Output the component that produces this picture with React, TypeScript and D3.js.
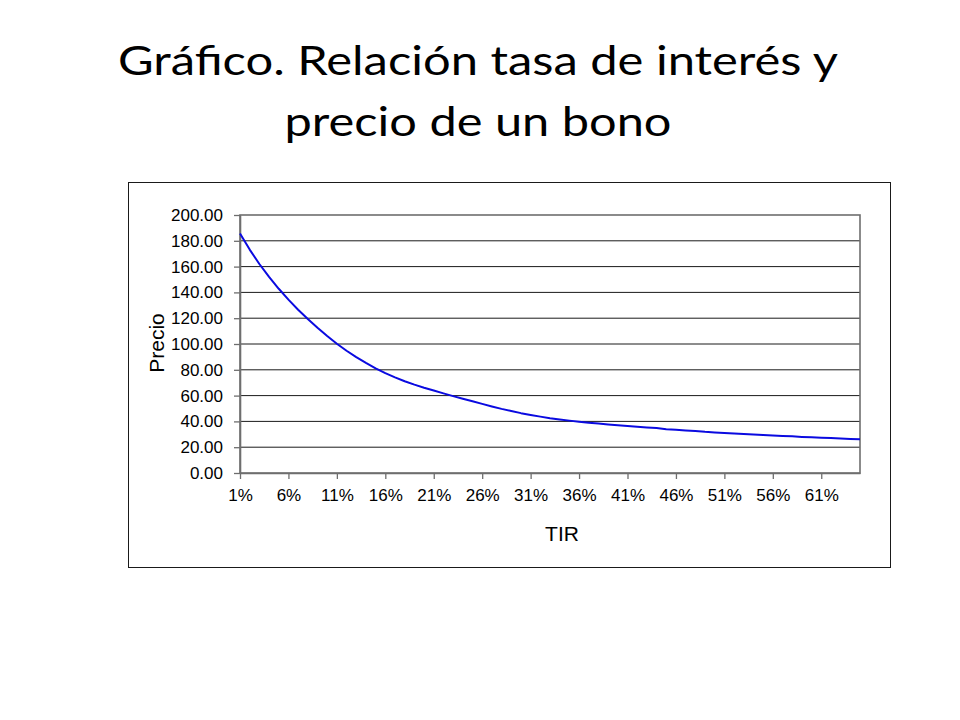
import React, { useRef, useEffect } from 'react';
import * as d3 from 'd3';

// TIR (%) de cada punto de la curva
const tasas = [
  1, 2, 3, 4, 5, 6, 7, 8, 9, 10, 11, 12, 13, 14, 15, 16, 17, 18, 19, 20,
  21, 22, 23, 24, 25, 26, 27, 28, 29, 30, 31, 32, 33, 34, 35, 36, 37, 38, 39, 40,
  41, 42, 43, 44, 45, 46, 47, 48, 49, 50, 51, 52, 53, 54, 55, 56, 57, 58, 59, 60,
  61, 62, 63, 64, 65,
];

// Precio del bono
const precios = [
  185.6, 173.2, 162.0, 152.0, 142.8, 134.4, 126.6, 119.4, 112.6, 106.2,
  100.2, 94.8, 89.8, 85.3, 81.1, 77.4, 74.1, 71.1, 68.5, 66.1,
  63.9, 61.7, 59.6, 57.6, 55.6, 53.6, 51.6, 49.7, 48.0, 46.4,
  45.0, 43.7, 42.5, 41.5, 40.6, 39.8, 39.0, 38.3, 37.6, 37.0,
  36.4, 35.8, 35.3, 34.8, 34.0, 33.5, 33.0, 32.6, 31.9, 31.4,
  31.0, 30.6, 30.2, 29.8, 29.4, 29.0, 28.7, 28.4, 28.0, 27.7,
  27.4, 27.1, 26.7, 26.4, 26.1,
];

const ticksPrecio = [0, 20, 40, 60, 80, 100, 120, 140, 160, 180, 200];
const tasasEtiquetadas = [1, 6, 11, 16, 21, 26, 31, 36, 41, 46, 51, 56, 61];

const tituloLineas = ['Gráfico. Relación tasa de interés y', 'precio de un bono'];

export default function App() {
  const svgRef = useRef<SVGSVGElement>(null);
  const width = 960;
  const height = 720;
  const box = { left: 128.5, top: 182.5, right: 890.5, bottom: 567.5 };
  const plot = { left: 240, top: 215, right: 860, bottom: 473 };

  useEffect(() => {
    if (!svgRef.current) return;
    const svg = d3.select(svgRef.current);
    svg.selectAll('*').remove();

    svg.append('rect').attr('width', width).attr('height', height).attr('fill', '#fff');

    // Title
    const tituloFont = 'Lato, Carlito, Calibri, sans-serif';
    svg.append('text')
      .attr('x', 478).attr('y', 75)
      .attr('text-anchor', 'middle')
      .attr('font-family', tituloFont)
      .attr('font-size', 41)
      .attr('textLength', 720)
      .attr('lengthAdjust', 'spacingAndGlyphs')
      .attr('fill', '#000')
      .text(tituloLineas[0]);
    svg.append('text')
      .attr('x', 478).attr('y', 136)
      .attr('text-anchor', 'middle')
      .attr('font-family', tituloFont)
      .attr('font-size', 41)
      .attr('textLength', 387)
      .attr('lengthAdjust', 'spacingAndGlyphs')
      .attr('fill', '#000')
      .text(tituloLineas[1]);

    // Chart frame
    svg.append('rect')
      .attr('x', box.left).attr('y', box.top)
      .attr('width', box.right - box.left).attr('height', box.bottom - box.top)
      .attr('fill', '#fff').attr('stroke', '#1a1a1a').attr('stroke-width', 1);

    const x = d3.scalePoint<number>().domain(tasas).range([plot.left, plot.right]);
    const y = d3.scaleLinear().domain([0, 200]).range([plot.bottom, plot.top]);

    const font = '"Liberation Sans", Arial, sans-serif';

    // Gridlines
    svg.append('g')
      .selectAll('line')
      .data(ticksPrecio.filter(t => t > 0 && t < 200))
      .join('line')
      .attr('x1', plot.left).attr('x2', plot.right)
      .attr('y1', d => y(d)).attr('y2', d => y(d))
      .attr('stroke', '#1a1a1a').attr('stroke-width', 1);

    // Plot border
    svg.append('rect')
      .attr('x', plot.left).attr('y', plot.top)
      .attr('width', plot.right - plot.left).attr('height', plot.bottom - plot.top)
      .attr('fill', 'none').attr('stroke', '#6e6e6e').attr('stroke-width', 1.6);

    // Y axis
    const gy = svg.append('g')
      .attr('transform', `translate(${plot.left},0)`)
      .call(d3.axisLeft(y).tickValues(ticksPrecio).tickFormat(d3.format('.2f')).tickSize(6).tickSizeOuter(0).tickPadding(11));
    gy.select('.domain').attr('stroke', '#6e6e6e').attr('stroke-width', 1.6);
    gy.selectAll('.tick line').attr('stroke', '#6e6e6e').attr('stroke-width', 1.3);
    gy.selectAll('.tick text').attr('font-family', font).attr('font-size', 17).attr('fill', '#000');

    // X axis
    const gx = svg.append('g')
      .attr('transform', `translate(0,${plot.bottom})`)
      .call(d3.axisBottom(x).tickValues(tasasEtiquetadas).tickFormat(d => `${d}%`).tickSize(6).tickSizeOuter(0).tickPadding(9.6));
    gx.select('.domain').attr('stroke', '#6e6e6e').attr('stroke-width', 1.6);
    gx.selectAll('.tick line').attr('stroke', '#6e6e6e').attr('stroke-width', 1.3);
    gx.selectAll('.tick text').attr('font-family', font).attr('font-size', 17).attr('fill', '#000');

    // Axis titles
    svg.append('text')
      .attr('x', 562).attr('y', 541)
      .attr('text-anchor', 'middle')
      .attr('font-family', font).attr('font-size', 21).attr('fill', '#000')
      .text('TIR');
    svg.append('text')
      .attr('transform', 'translate(164,343) rotate(-90)')
      .attr('text-anchor', 'middle')
      .attr('font-family', font).attr('font-size', 21).attr('fill', '#000')
      .text('Precio');

    // Price curve
    const linea = d3.line<number>()
      .x((_, i) => x(tasas[i]) ?? 0)
      .y(d => y(d));
    svg.append('path')
      .datum(precios)
      .attr('d', linea)
      .attr('fill', 'none')
      .attr('stroke', '#0a0ae0')
      .attr('stroke-width', 2)
      .attr('stroke-linejoin', 'round');
  }, []);

  return (
    <svg
      ref={svgRef}
      width={width}
      height={height}
      style={{ position: 'absolute', left: 0, top: 0, display: 'block' }}
    />
  );
}
